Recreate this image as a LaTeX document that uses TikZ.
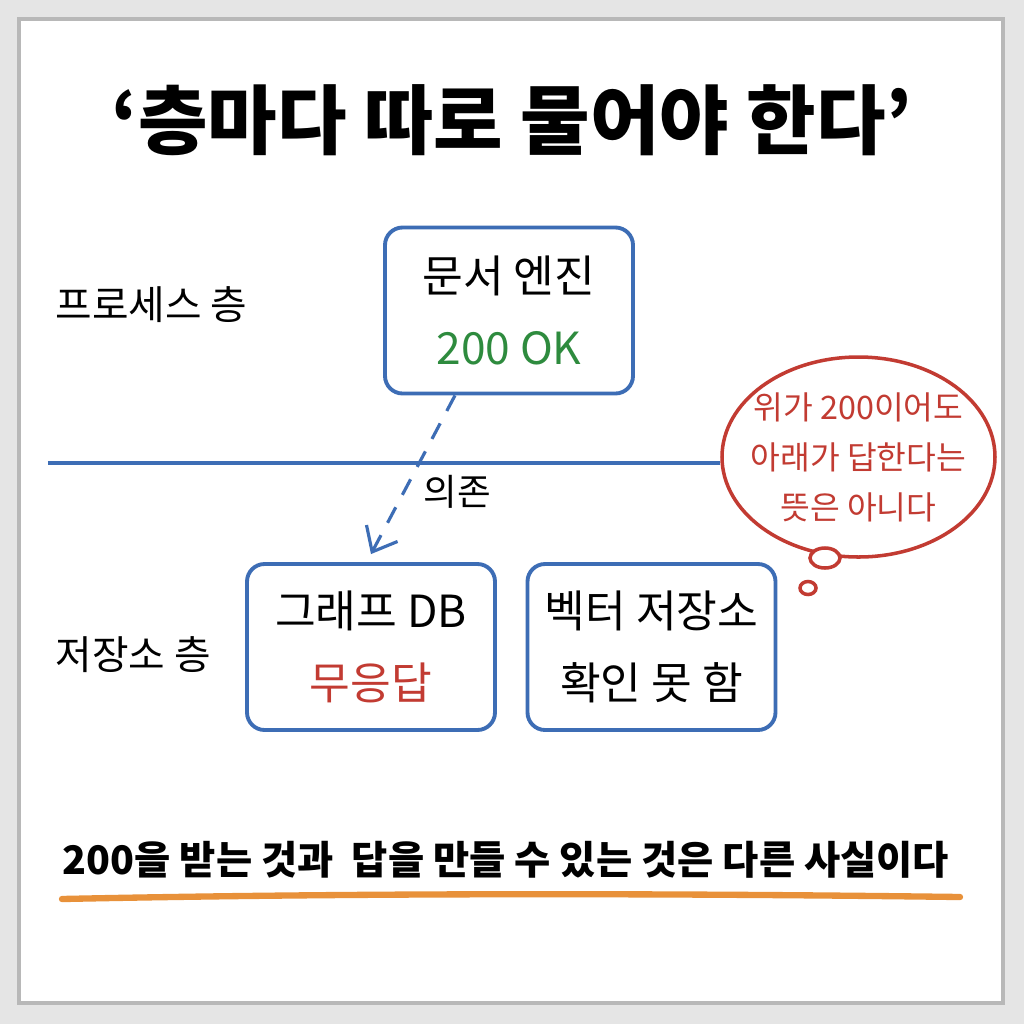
\documentclass[tikz,border=0pt]{standalone}
\usepackage{fontspec}
\setmainfont{Noto Sans CJK KR}
\usetikzlibrary{positioning, shapes.geometric, arrows.meta}
\definecolor{boxblue}{HTML}{3D6DB5}
\definecolor{okgreen}{HTML}{2E8B3E}
\definecolor{badred}{HTML}{C23B32}
\definecolor{marker}{HTML}{E8913A}

\begin{document}
\begin{tikzpicture}[
    layerbox/.style={draw=boxblue, line width=1.1pt, rounded corners=5pt, fill=white,
        minimum width=2.48cm, minimum height=1.66cm, align=center,
        font=\fontsize{12.6}{20.5}\selectfont},
    layerlabel/.style={anchor=west, inner sep=0pt, font=\fontsize{11.3}{13}\selectfont},
    puff/.style={ellipse, draw=badred, line width=1pt, fill=white, inner sep=0pt},
    dep/.style={draw=boxblue, line width=0.9pt, dashed, dash pattern=on 5pt off 4pt,
        -{Straight Barb[length=6pt, width=10pt, line width=0.9pt]}}
]
    \useasboundingbox (0,0) rectangle (10.24,-10.24);
    % page and card
    \fill[black!10] (0,0) rectangle (10.24,-10.24);
    \draw[fill=white, draw=black!28, line width=1pt] (0.19,-0.19) rectangle (10.03,-10.03);

    % title
    \node (title) at (5.12,-1.2) {\fontsize{21.5}{24}\selectfont\bfseries ‘층마다 따로 물어야 한다’};

    % layers
    \node[layerlabel] (proc) at (0.55,-3.05) {프로세스 층};
    \node[layerlabel] (store) at (0.55,-6.55) {저장소 층};
    \coordinate (lineL) at (0.48,-4.63);

    % boxes
    \node[layerbox] (engine) at (5.09,-3.105) {문서 엔진\\\textcolor{okgreen}{200 OK}};
    \node[layerbox] (graph) at (3.71,-6.47) {그래프 DB\\\textcolor{badred}{무응답}};
    \node[layerbox] (vector) at (6.515,-6.47) {벡터 저장소\\확인 못 함};

    % thought bubble
    \node[puff, minimum width=2.73cm, minimum height=2.0cm] (bubble) at (8.585,-4.57) {};
    \node[align=center, text=badred, font=\fontsize{9.2}{14.2}\selectfont] (bubbletext) at (bubble)
        {위가 200이어도\\아래가 답한다는\\뜻은 아니다};
    \node[puff, minimum width=0.3cm, minimum height=0.2cm] (puff1) at (8.25,-5.58) {};
    \node[puff, minimum width=0.16cm, minimum height=0.13cm] (puff2) at (8.08,-5.88) {};

    \draw[boxblue, line width=1pt] (lineL) -- (lineL -| bubble.west);
    \draw[dep] ([xshift=-0.54cm]engine.south) -- ([yshift=0.08cm]graph.north);
    \node (deplabel) at (4.57,-4.92) {\fontsize{10.4}{12}\selectfont 의존};

    % takeaway
    \node (summary) at (5.06,-8.6) {\fontsize{11.2}{13}\selectfont\bfseries 200을 받는 것과\ \ 답을 만들 수 있는 것은 다른 사실이다};
    \draw[marker, line width=1.8pt, line cap=round] (0.62,-8.99) .. controls (3.5,-8.93) and (6.5,-8.93) .. (9.6,-8.97);
\end{tikzpicture}
\end{document}
